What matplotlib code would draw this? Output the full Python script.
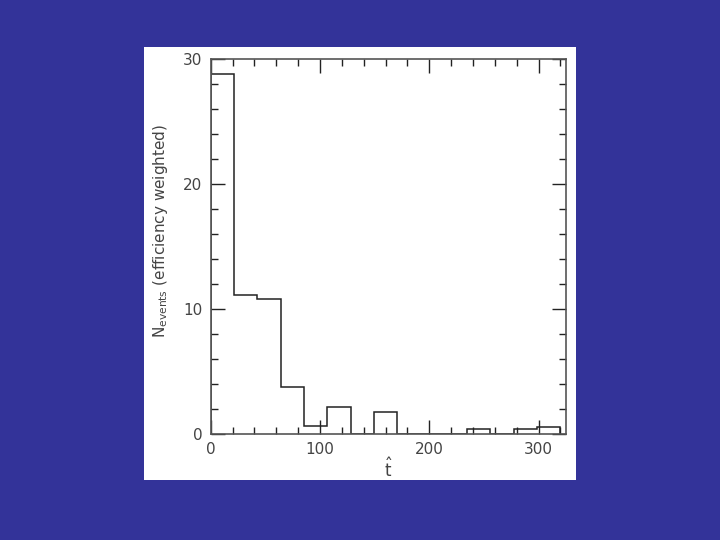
import numpy as np
import matplotlib
matplotlib.use('Agg')
import matplotlib.pyplot as plt
from matplotlib.ticker import MultipleLocator

# efficiency weighted event counts per t-hat bin (15 bins over 0..320)
counts = [28.8, 11.1, 10.75, 3.7, 0.6, 2.15, 0.0, 1.7, 0.0, 0.0, 0.0, 0.35, 0.0, 0.35, 0.55]
t_min, t_max = 0, 320
edges = np.linspace(t_min, t_max, len(counts) + 1)

bg = '#333399'
ink = '#222222'

fig = plt.figure(figsize=(7.2, 5.4), dpi=100, facecolor=bg)

# white panel behind the plot
panel = fig.add_axes([0.2, 0.111, 0.6, 0.802], zorder=0)
panel.set_axis_off()
panel.add_patch(plt.Rectangle((0, 0), 1, 1, transform=panel.transAxes,
                              facecolor='white', edgecolor='none'))

ax = fig.add_axes([0.2926, 0.1969, 0.4934, 0.6938], zorder=1)
ax.set_facecolor('none')
ax.stairs(counts, edges, color=ink, lw=1.1)

ax.set_xlim(0, 325)
ax.set_ylim(0, 30)
ax.xaxis.set_major_locator(MultipleLocator(100))
ax.xaxis.set_minor_locator(MultipleLocator(20))
ax.yaxis.set_major_locator(MultipleLocator(10))
ax.yaxis.set_minor_locator(MultipleLocator(2))
ax.tick_params(which='both', direction='in', top=True, right=True, colors=ink,
               labelcolor='#444444', labelsize=11, pad=6)
ax.tick_params(which='major', length=10, width=1)
ax.tick_params(which='minor', length=5, width=1)
for s in ax.spines.values():
    s.set_color('#555555')
    s.set_linewidth(1.2)

ax.set_xlabel(r'$\hat{\mathrm{t}}$', fontsize=12, color='#444444', labelpad=0)
ax.set_ylabel(r'N$_{\mathrm{events}}$ (efficiency weighted)', fontsize=11, color='#444444')
ax.yaxis.set_label_coords(-0.115, 0.54)

fig.savefig('out.png', dpi=100, facecolor=bg)
